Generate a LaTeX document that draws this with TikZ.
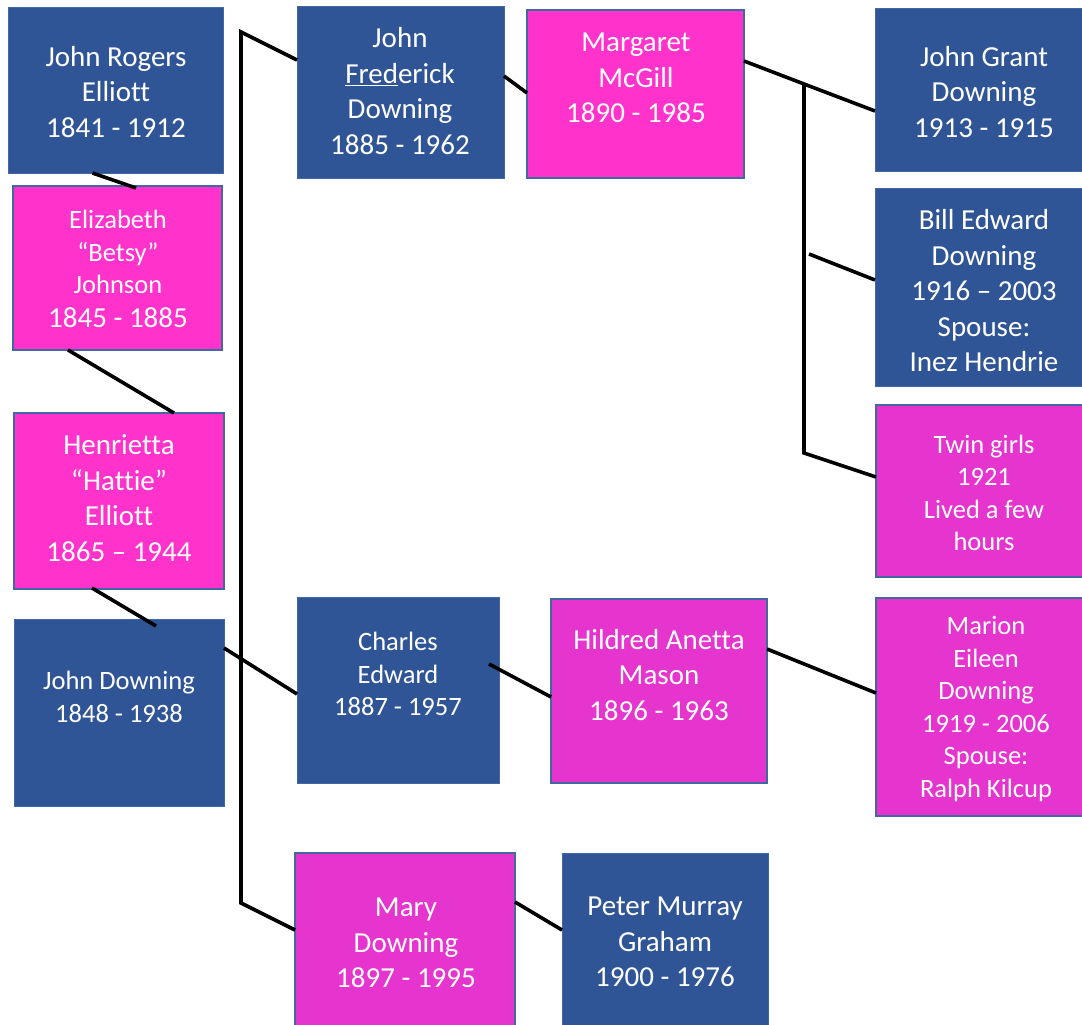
\documentclass[tikz,border=0pt]{standalone}
\usepackage{fontspec}
\setmainfont{Carlito}[Ligatures={NoCommon}]
\usetikzlibrary{calc}
\definecolor{boxblue}{HTML}{2F5597}
\definecolor{boxpinkA}{HTML}{FF33CC}
\definecolor{boxpinkB}{HTML}{E634CE}
\definecolor{pinkedge}{HTML}{41699F}
\definecolor{blueedge}{HTML}{4068A8}
\tikzset{
  person/.style={rectangle, inner sep=0pt, outer sep=0pt},
  malebox/.style={person, fill=boxblue, draw=blueedge, line width=0.8pt},
  femaleboxA/.style={person, fill=boxpinkA, draw=pinkedge, line width=1.8pt},
  femaleboxB/.style={person, fill=boxpinkB, draw=pinkedge, line width=1.8pt},
  bigtxt/.style={text=white, align=center, inner sep=0pt, font=\fontsize{29}{35.5}\selectfont},
  smalltxt/.style={text=white, align=center, inner sep=0pt, font=\fontsize{26.5}{32.5}\selectfont},
  link/.style={line width=3.6pt, draw=black, line join=miter}
}
\begin{document}
\begin{tikzpicture}[x=1pt,y=-1pt]
\clip (0,0) rectangle (1082,1025);
\fill[white] (0,0) rectangle (1082,1025);

% ---- boxes ----
\node[malebox,   minimum width=215pt, minimum height=166pt] (jre) at (115.5,90) {};
\node[malebox,   minimum width=207pt, minimum height=172pt] (jfd) at (400.5,92) {};
\node[femaleboxA,minimum width=217pt, minimum height=168pt] (mm)  at (635.5,94) {};
\node[malebox,   minimum width=219pt, minimum height=163pt] (jgd) at (984.5,89.5) {};
\node[malebox,   minimum width=219pt, minimum height=198pt] (bed) at (984.5,287) {};
\node[femaleboxB,minimum width=218pt, minimum height=172pt] (tw)  at (985,491) {};
\node[femaleboxA,minimum width=209pt, minimum height=164pt] (ebj) at (117.5,268) {};
\node[femaleboxA,minimum width=210pt, minimum height=176pt] (hhe) at (119,501) {};
\node[malebox,   minimum width=210pt, minimum height=187pt] (jd)  at (119,712.5) {};
\node[malebox,   minimum width=202pt, minimum height=186pt] (ce)  at (398,690) {};
\node[femaleboxB,minimum width=216pt, minimum height=184pt] (ham) at (659,691) {};
\node[femaleboxB,minimum width=218pt, minimum height=218pt] (med) at (985,707) {};
\node[femaleboxB,minimum width=220pt, minimum height=178pt] (md)  at (405,942) {};
\node[malebox,   minimum width=206pt, minimum height=178pt] (pmg) at (665,942) {};

% ---- texts ----
\node[bigtxt]   (jre-t) at (116,92)  {John Rogers\\Elliott\\1841 - 1912};
\node[bigtxt]   (jfd-t) at (400,91)  {John\\\underline{Fred}erick\\Downing\\1885 - 1962};
\node[bigtxt]   (mm-t)  at (636,78)  {Margaret\\McGill\\1890 - 1985};
\node[bigtxt]   (jgd-t) at (984,92)  {John Grant\\Downing\\1913 - 1915};
\node[bigtxt]   (bed-t) at (984,291) {Bill Edward\\Downing\\1916 – 2003\\Spouse:\\Inez Hendrie};
\node[smalltxt] (tw-t)  at (984,493) {Twin girls\\1921\\Lived a few\\hours};
\node[smalltxt] (ebj-t) at (118,269) {Elizabeth\\“Betsy”\\Johnson\\[1.5pt]{\fontsize{29}{35.5}\selectfont 1845 - 1885}};
\node[bigtxt]   (hhe-t) at (119,498) {Henrietta\\“Hattie”\\Elliott\\1865 – 1944};
\node[smalltxt] (jd-t)  at (119,697) {John Downing\\1848 - 1938};
\node[smalltxt] (ce-t)  at (398,674) {Charles\\Edward\\1887 - 1957};
\node[bigtxt]   (ham-t) at (659,675) {Hildred Anetta\\Mason\\1896 - 1963};
\node[smalltxt] (med-t) at (986,709) {Marion\\Eileen\\Downing\\1919 - 2006\\Spouse:\\Ralph Kilcup};
\node[bigtxt]   (md-t)  at (406,943) {Mary\\Downing\\1897 - 1995};
\node[bigtxt]   (pmg-t) at (665,942) {Peter Murray\\Graham\\1900 - 1976};

% ---- free coordinates ----
\coordinate (trunktop) at (241,32);
\coordinate (trunkbot) at (241,903);
\coordinate (kidjunc)  at (804,84);
\coordinate (kidbot)   at (804,453);
\coordinate (kidmid)   at (809,254);

% ---- connectors ----
\draw[link] ([xshift=-23pt]jre.south) -- ([xshift=18.5pt,yshift=-2pt]ebj.north);
\draw[link] ([xshift=-49.5pt]ebj.south) -- ([xshift=55pt]hhe.north);
\draw[link] ([xshift=-27pt,yshift=1pt]hhe.south) -- ([xshift=37pt,yshift=-7pt]jd.north);
\draw[link] ([yshift=64.5pt]jd.east) -- ([yshift=-4pt]ce.west);
\draw[link] ([yshift=32pt]jfd.west) -- (trunktop) -- (trunkbot) -- ([yshift=12pt]md.west);
\draw[link] ([yshift=16pt]jfd.east) -- ([yshift=1pt]mm.west);
\draw[link] ([yshift=33pt]mm.east) -- (kidjunc) -- ([yshift=-21.5pt]jgd.west);
\draw[link] (kidjunc) -- (kidbot) -- ([yshift=14pt]tw.west);
\draw[link] (kidmid) -- ([yshift=7pt]bed.west);
\draw[link] ([xshift=-10pt,yshift=26pt]ce.east) -- ([yshift=-6pt]ham.west);
\draw[link] ([yshift=42pt]ham.east) -- ([yshift=14pt]med.west);
\draw[link] ([yshift=40pt]md.east) -- ([yshift=12pt]pmg.west);
\end{tikzpicture}
\end{document}
